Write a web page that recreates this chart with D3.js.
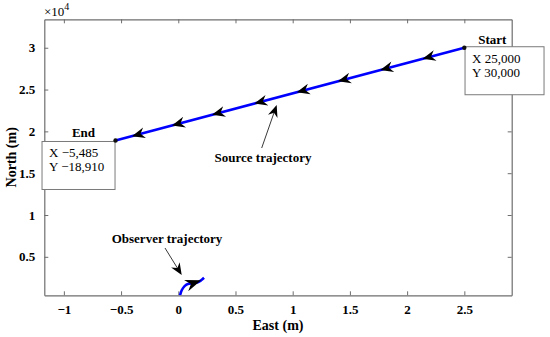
<!DOCTYPE html>
<html>
<head>
<meta charset="utf-8">
<script src="https://cdn.jsdelivr.net/npm/d3@7"></script>
<style>
  body { margin: 0; background: #fff; }
  text { font-family: "Liberation Serif", "Times New Roman", serif; }
</style>
</head>
<body>
<div id="chart"></div>
<script>
// axis ticks (units of 10^4 m)
var xTicks = [-1, -0.5, 0, 0.5, 1, 1.5, 2, 2.5];
var yTicks = [0.5, 1, 1.5, 2, 2.5, 3];

// source trajectory: start and end points
var sourceX = [2.5, -0.5485];
var sourceY = [3.0, 1.891];

// arrow tips drawn along the source trajectory
var sourceArrowX = [2.135, 1.765, 1.395, 1.035, 0.665, 0.295, -0.055, -0.405];
var sourceArrowY = [2.867, 2.733, 2.598, 2.467, 2.332, 2.198, 2.071, 1.943];

// observer trajectory
var observerX = [0.015, 0.03, 0.055, 0.09, 0.13, 0.17, 0.2, 0.225];
var observerY = [0.04, 0.10, 0.15, 0.178, 0.185, 0.195, 0.22, 0.25];

// data tips
var tipNames = ["Start", "End"];
var tipX = ["X 25,000", "X \u22125,485"];
var tipY = ["Y 30,000", "Y \u221218,910"];

// set the dimensions
var W = 550, H = 337;
var margin = {top: 19.3, right: 38.3, bottom: 41.7, left: 44.3},
    width = W - margin.left - margin.right,
    height = H - margin.top - margin.bottom;

var svg = d3.select("#chart")
  .append("svg")
    .attr("width", W)
    .attr("height", H);

var g = svg.append("g")
    .attr("transform", "translate(" + margin.left + "," + margin.top + ")");

var x = d3.scaleLinear().domain([-1.171, 2.914]).range([0, width]);
var y = d3.scaleLinear().domain([0.04, 3.34]).range([height, 0]);

var axisColor = "#6e6e6e";
var fmt = function(d) { return String(d).replace("-", "\u2212"); };

// bottom and top axes
var xb = g.append("g")
    .attr("transform", "translate(0," + height + ")")
    .call(d3.axisBottom(x).tickValues(xTicks).tickSizeInner(-4).tickSizeOuter(0).tickPadding(9).tickFormat(fmt));
var xt = g.append("g")
    .call(d3.axisTop(x).tickValues(xTicks).tickSizeInner(-4).tickSizeOuter(0).tickFormat(""));
// left and right axes
var yl = g.append("g")
    .call(d3.axisLeft(y).tickValues(yTicks).tickSizeInner(-4).tickSizeOuter(0).tickPadding(9).tickFormat(fmt));
var yr = g.append("g")
    .attr("transform", "translate(" + width + ",0)")
    .call(d3.axisRight(y).tickValues(yTicks).tickSizeInner(-4).tickSizeOuter(0).tickFormat(""));

[xb, xt, yl, yr].forEach(function(a) {
  a.select(".domain").attr("stroke", axisColor).attr("stroke-width", 1.2);
  a.selectAll(".tick line").attr("stroke", axisColor);
  a.selectAll("text")
    .attr("fill", "#000")
    .style("font-size", "13px")
    .style("font-weight", "bold");
});
xb.selectAll("text").attr("dy", "0.71em");

// axis labels
svg.append("text")
    .attr("x", margin.left + width / 2)
    .attr("y", 330)
    .attr("text-anchor", "middle")
    .style("font-size", "14px")
    .style("font-weight", "bold")
    .text("East (m)");
svg.append("text")
    .attr("transform", "translate(16," + (margin.top + height / 2) + ")rotate(-90)")
    .attr("text-anchor", "middle")
    .style("font-size", "14px")
    .style("font-weight", "bold")
    .text("North (m)");

// x10^4 exponent
var ex = svg.append("text")
    .attr("x", 44)
    .attr("y", 15.5)
    .style("font-size", "13px");
ex.append("tspan").text("\u00d710");
ex.append("tspan").attr("dy", -6).style("font-size", "10px").text("4");

// clip to plot area
g.append("clipPath").attr("id", "clip")
  .append("rect").attr("width", width).attr("height", height);
var plot = g.append("g").attr("clip-path", "url(#clip)");

var line = d3.line()
    .x(function(d) { return x(d[0]); })
    .y(function(d) { return y(d[1]); });

// source trajectory
plot.append("path")
    .datum(d3.zip(sourceX, sourceY))
    .attr("d", line)
    .attr("fill", "none")
    .attr("stroke", "#0000ff")
    .attr("stroke-width", 2.6);

// observer trajectory
plot.append("path")
    .datum(d3.zip(observerX, observerY))
    .attr("d", line.curve(d3.curveCatmullRom))
    .attr("fill", "none")
    .attr("stroke", "#0000ff")
    .attr("stroke-width", 2.6);

// arrowhead shape, tip at origin, pointing +x
function head(len, half) {
  return "M0,0L" + (-len) + "," + (-half) + "L" + (-len * 0.68) + ",0L" + (-len) + "," + half + "Z";
}
function angle(x0, y0, x1, y1) {
  return Math.atan2(y(y1) - y(y0), x(x1) - x(x0)) * 180 / Math.PI;
}

var srcAngle = angle(sourceX[0], sourceY[0], sourceX[1], sourceY[1]);
plot.selectAll(".src-arrow")
  .data(d3.zip(sourceArrowX, sourceArrowY))
  .enter()
  .append("path")
    .attr("class", "src-arrow")
    .attr("d", head(13, 5.5))
    .attr("transform", function(d) {
      return "translate(" + x(d[0]) + "," + y(d[1]) + ")rotate(" + srcAngle + ")";
    })
    .attr("fill", "#000");

// observer arrow at the 7th point
var oi = 6;
plot.append("path")
    .attr("d", head(16, 6))
    .attr("transform", "translate(" + x(observerX[oi]) + "," + y(observerY[oi]) + ")rotate(" +
      angle(observerX[oi - 2], observerY[oi - 2], observerX[oi], observerY[oi]) + ")")
    .attr("fill", "#000");

// data tips
var tips = [
  {i: 0, boxDx: 0.7, boxDy: -1, bw: 79, labelDx: 28, labelDy: -4},
  {i: 1, boxDx: -73.5, boxDy: 1, bw: 73, labelDx: -32, labelDy: -3.5}
];
tips.forEach(function(t) {
  var px = x(sourceX[t.i]), py = y(sourceY[t.i]);
  var bx = px + t.boxDx, by = py + t.boxDy;
  g.append("rect")
      .attr("x", bx).attr("y", by)
      .attr("width", t.bw).attr("height", 48)
      .attr("fill", "#fff")
      .attr("stroke", "#7a7a7a")
      .attr("stroke-width", 1);
  g.append("text")
      .attr("x", bx + 7).attr("y", by + 16)
      .style("font-size", "13px")
      .text(tipX[t.i]);
  g.append("text")
      .attr("x", bx + 7).attr("y", by + 30)
      .style("font-size", "13px")
      .text(tipY[t.i]);
  g.append("text")
      .attr("x", px + t.labelDx).attr("y", py + t.labelDy)
      .attr("text-anchor", "middle")
      .style("font-size", "13px")
      .style("font-weight", "bold")
      .text(tipNames[t.i]);
  g.append("circle")
      .attr("cx", px).attr("cy", py).attr("r", 2.2)
      .attr("fill", "#111");
});

// text arrow annotations (figure pixels)
var notes = [
  {text: "Source trajectory", tx: 263, ty: 161.5, x0: 261.7, y0: 148, x1: 276.7, y1: 105},
  {text: "Observer trajectory", tx: 167, ty: 242.5, x0: 165, y0: 248, x1: 181.7, y1: 275}
];
notes.forEach(function(n) {
  svg.append("text")
      .attr("x", n.tx).attr("y", n.ty)
      .attr("text-anchor", "middle")
      .style("font-size", "13px")
      .style("font-weight", "bold")
      .text(n.text);
  var a = Math.atan2(n.y1 - n.y0, n.x1 - n.x0);
  svg.append("line")
      .attr("x1", n.x0).attr("y1", n.y0)
      .attr("x2", n.x1 - 8 * Math.cos(a)).attr("y2", n.y1 - 8 * Math.sin(a))
      .attr("stroke", "#222")
      .attr("stroke-width", 0.9);
  svg.append("path")
      .attr("d", head(12, 5))
      .attr("transform", "translate(" + n.x1 + "," + n.y1 + ")rotate(" + (a * 180 / Math.PI) + ")")
      .attr("fill", "#000");
});
</script>
</body>
</html>
